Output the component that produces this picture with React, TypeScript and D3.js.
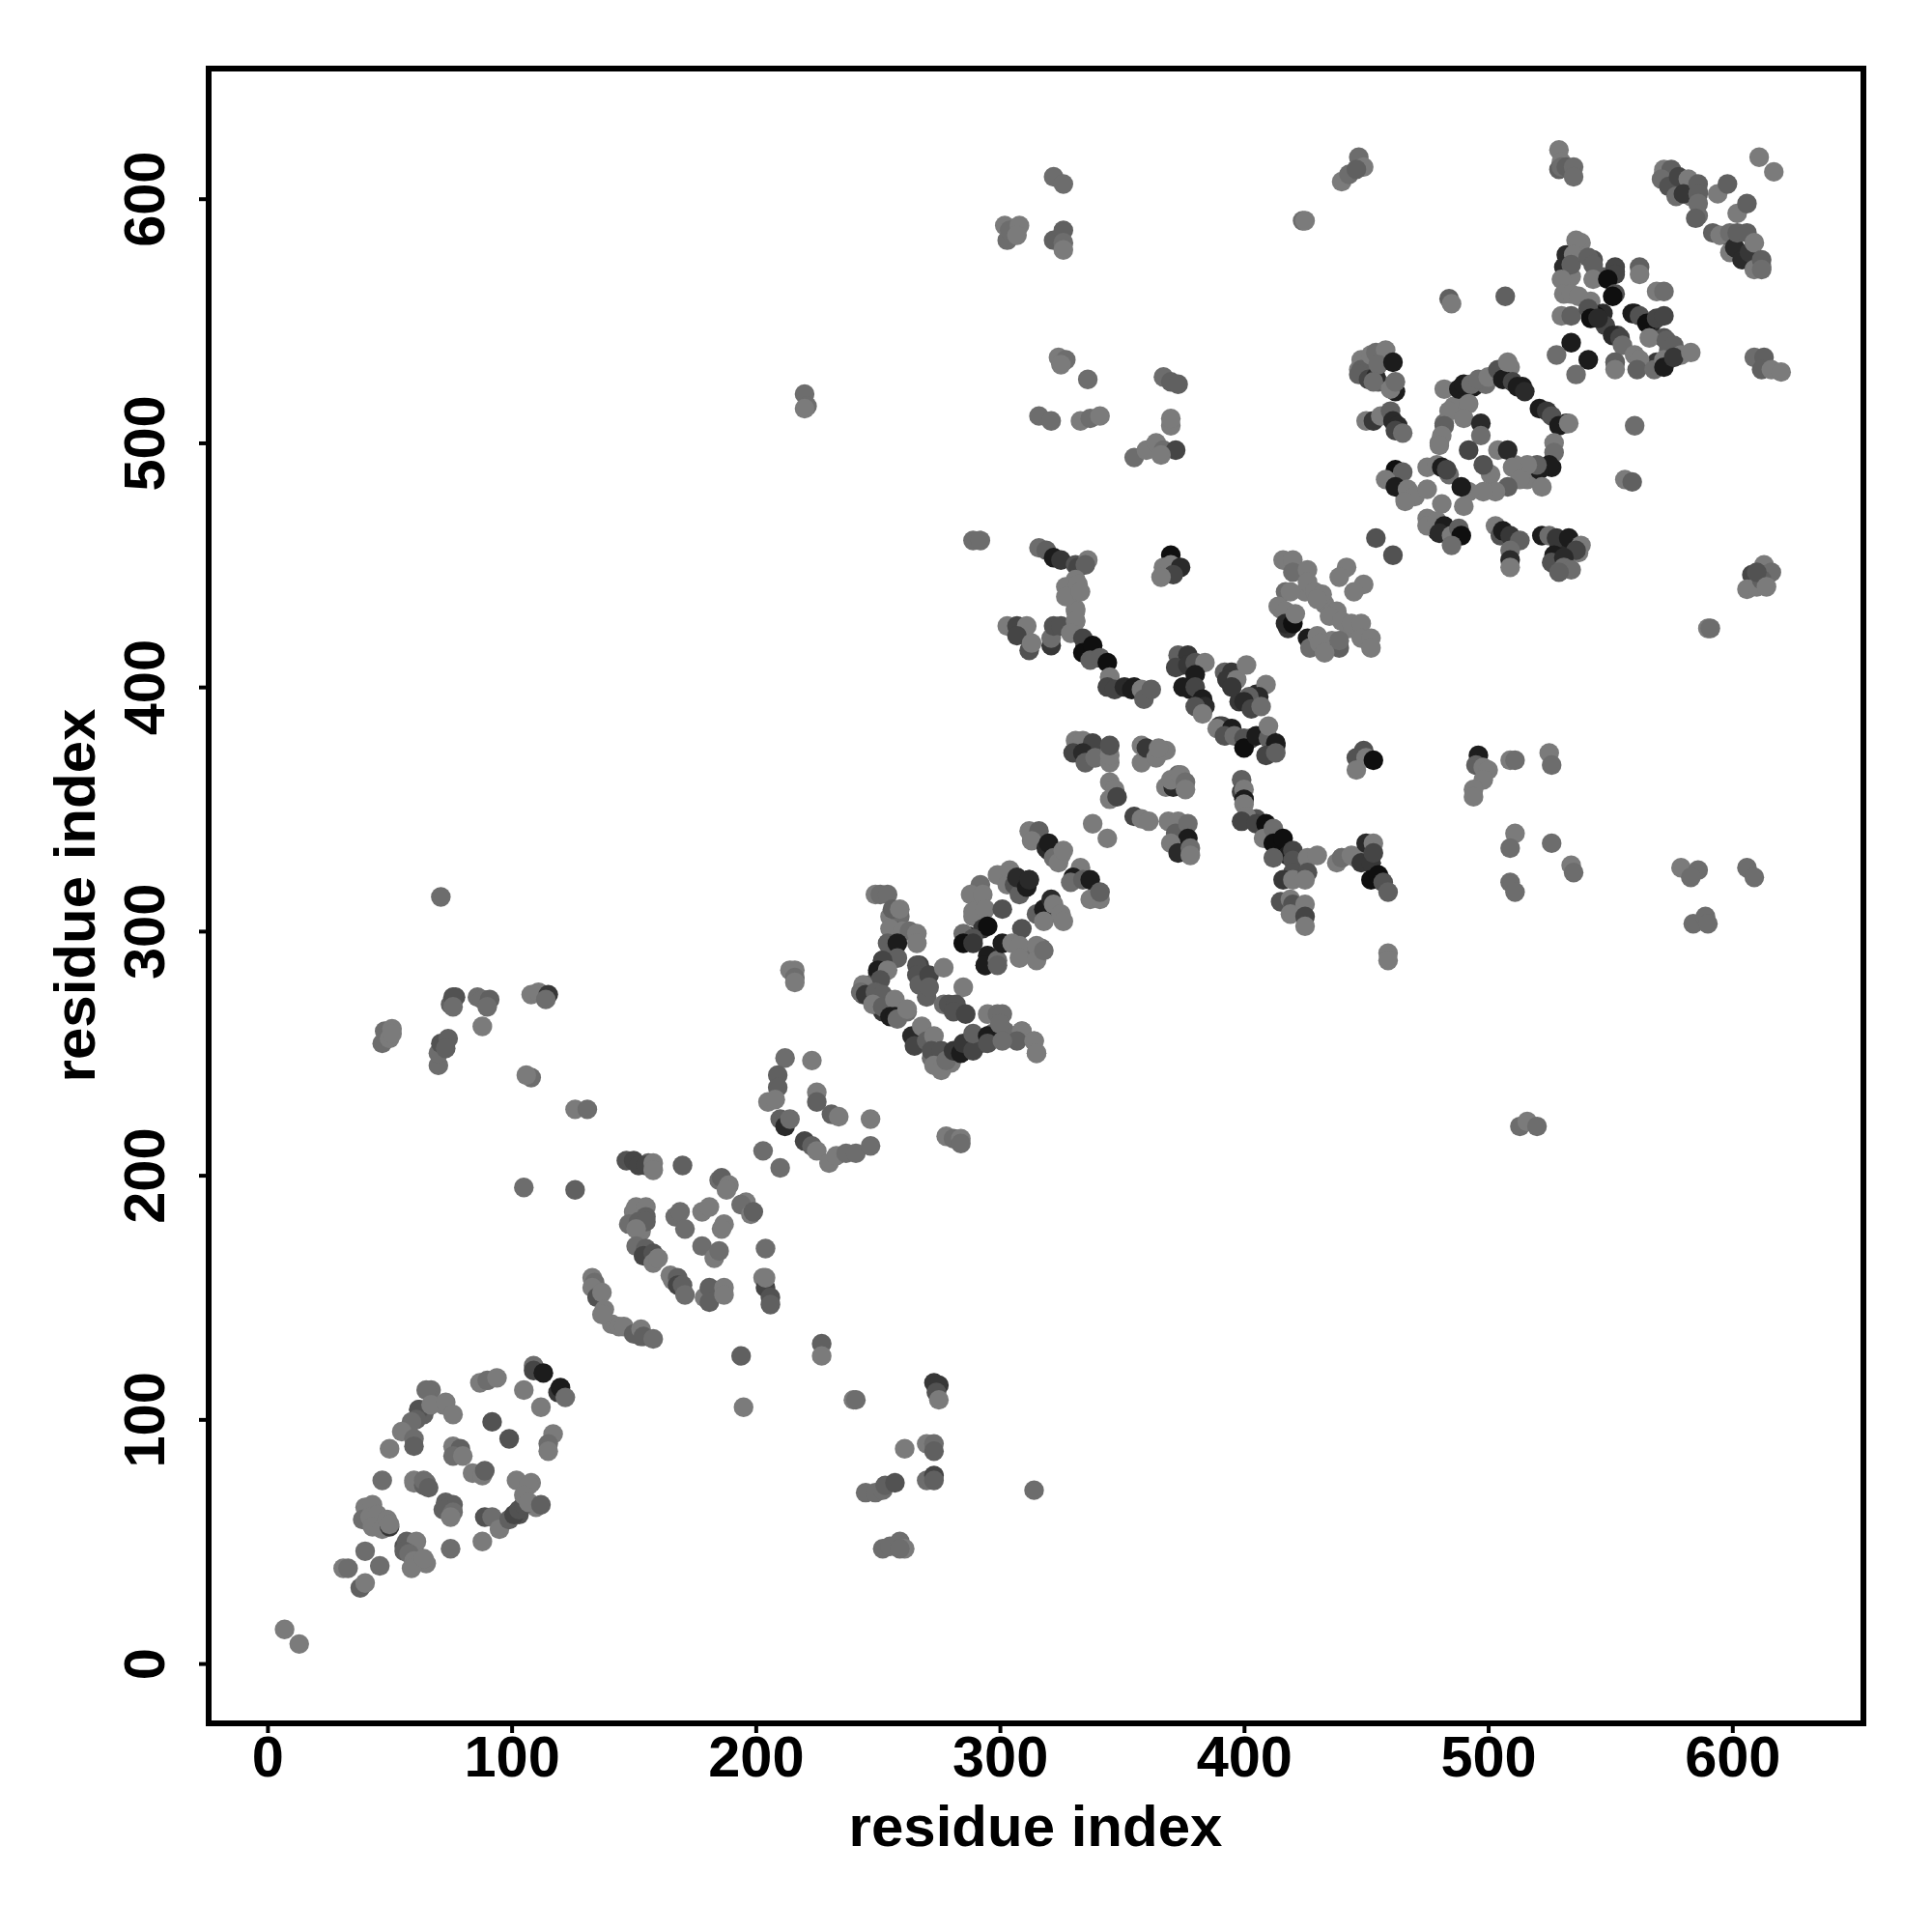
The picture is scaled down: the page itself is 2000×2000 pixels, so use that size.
import { useEffect, useRef } from 'react';
import * as d3 from 'd3';

type Contact = [number, number, number];

// [residue i, residue j, strength level 0-9]
const nTermContacts: Contact[] = [
  [7,14,1],[13,8,1],[31,39,1],[33,39,2],[40,46,2],[46,40,2],[38,31,3],[40,33,1],
  [43,65,1],[39,59,2],[42,60,1],[45,61,1],[43,56,1],[47,55,1],[50,56,6],[49,59,1],[50,57,1],[47,75,2],
  [56,48,4],[57,50,3],[61,50,1],[56,46,3],[58,45,2],[60,42,1],[59,39,1],[64,43,1],[75,47,2],[88,50,1],
  [60,75,1],[64,73,3],[64,75,2],[66,72,3],
  [65,112,2],[64,102,3],[62,104,4],[61,100,3],[59,99,2],[55,95,1],[60,92,2],[60,89,3],[50,88,1],[67,106,1],[73,107,1],[76,102,1],
  [76,89,1],[79,88,3],[76,85,2],[80,85,1],[84,78,1],[88,77,1],[89,79,3],
  [73,66,3],[76,65,3],[72,63,3],[76,62,2],[75,60,1],
  [89,60,4],[92,60,2],[95,55,1],[99,59,3],[101,61,5],[103,63,4],[105,65,4],[102,75,1],[107,73,1],[105,69,1],[107,66,1],[112,65,3],
  [109,122,2],[109,120,5],[113,119,8],[119,111,6],[120,113,8],[122,109,2],[105,112,1],[112,105,1],
  [87,115,1],[90,116,2],[94,117,1],[92,99,4],[99,92,4],[117,94,1],[115,90,2],[115,87,1],
];

const secondDomain: Contact[] = [
  [126,194,3],[147,206,4],[150,206,5],[152,204,5],[155,204,5],[158,205,1],[158,202,1],[170,204,3],
  [185,198,2],[186,199,3],[189,196,1],[188,194,1],[196,189,1],[194,188,2],[198,184,1],[199,185,3],
  [151,187,1],[155,187,1],[148,180,2],[152,181,3],[155,183,3],[155,181,3],[151,178,1],
  [167,183,2],[169,185,2],[171,178,2],[178,185,1],[181,187,1],[187,180,1],[186,178,1],
  [178,171,2],[183,166,1],[185,169,2],[204,170,2],
  [151,171,2],[155,170,3],[154,167,5],[158,168,4],[158,164,1],[160,166,1],
  [165,159,1],[168,158,3],[168,155,5],[170,155,3],[171,151,2],
  [179,150,1],[181,154,3],[181,148,3],[187,154,1],[187,151,1],
  [203,158,1],[204,154,5],[206,150,4],[206,147,3],[204,158,1],
  [133,158,1],[134,156,2],[133,154,1],[135,150,4],[137,152,1],[138,145,1],[137,143,1],
  [144,138,1],[146,138,1],[150,135,3],[153,137,1],[154,134,3],[158,133,2],
  [194,126,3],[227,131,3],[227,126,1],[195,105,1],
];

const thirdDomain: Contact[] = [
  [212,248,2],[223,247,1],[209,241,3],[209,236,3],[205,230,1],[208,231,1],[225,234,1],[225,230,3],[231,225,3],[234,224,1],[247,223,1],
  [210,223,3],[212,220,7],[214,223,2],[220,214,5],[223,212,3],[225,210,1],[230,205,1],[233,208,1],[237,209,2],[241,209,2],[247,212,2],
  [203,210,2],[210,203,2],[278,216,1],[281,215,2],[284,215,1],[284,213,2],
  [214,284,1],[216,284,1],[216,281,2],[216,279,1],
];

const denseLower: Contact[] = [
  [62,104,3],[67,112,2],[72,106,1],[60,74,1],[65,74,2],[75,64,3],[47,56,3],[40,64,1],[60,46,3],[65,41,1],[103,61,4],[108,74,1],[110,64,1],
  [156,205,3],[150,185,1],[153,177,1],[166,157,1],[183,152,2],[135,152,1],[141,139,1],[153,134,3],
  [255,306,1],[259,306,2],[257,300,3],[255,294,7],[252,288,6],[250,283,7],[247,278,3],[244,274,4],[254,272,3],[262,267,2],[252,267,6],
  [267,286,5],[270,281,4],[270,273,3],
  [267,255,6],[272,248,2],[277,245,1],[282,250,6],[287,253,7],[292,254,5],[297,258,3],[302,259,2],[309,259,1],[314,255,2],[315,250,1],
  [292,313,1],[289,306,1],[287,298,7],[299,323,1],[307,321,7],[312,321,5],[320,333,7],[325,331,1],[332,323,3],[340,316,5],[320,308,3],[325,306,2],
  [297,288,3],[294,286,7],[317,293,2],[309,291,2],
];

const centralContacts: Contact[] = [
  [249,315,1],[251,315,2],[254,315,2],[256,309,3],[259,309,1],
  [257,300,4],[255,301,1],[260,300,1],[263,300,2],[266,299,1],[266,295,1],
  [254,295,3],[258,295,8],[258,289,3],[252,288,5],[250,284,8],[254,284,1],[251,280,4],
  [244,278,1],[243,275,2],[245,274,6],[249,275,3],[252,274,3],[248,270,1],[252,269,3],[257,272,1],[255,265,8],[257,265,8],[258,264,2],[262,268,1],
  [266,286,4],[266,282,4],[267,278,3],[271,282,5],[271,277,3],[277,285,1],[285,277,1],
  [277,270,2],[279,270,4],[282,270,4],[281,267,4],[286,266,5],
  [264,257,7],[265,253,5],[268,261,1],[270,255,3],[273,257,1],[272,251,4],[276,251,4],[273,245,1],[276,243,1],[280,246,1],[278,247,2],
  [281,251,6],[284,250,8],[285,254,6],[289,251,5],[289,258,3],[295,257,8],[295,254,4],
  [295,266,1],[299,266,2],[301,266,2],[300,262,2],[309,259,1],[307,255,3],[301,255,2],[314,255,1],[315,250,1],
  [292,319,2],[288,315,1],[293,315,1],[289,308,1],[294,309,1],[301,309,4],[293,301,6],[295,302,9],[285,299,2],[289,297,4],[285,295,9],[289,295,6],[309,301,4],
  [295,290,8],[294,286,8],[299,288,2],[299,286,3],[301,295,8],[305,295,1],[308,294,1],[308,289,1],[315,294,1],[315,288,1],[318,292,2],
  [304,325,1],[303,319,1],[306,319,4],[308,315,3],[307,322,7],[311,318,8],[312,321,7],
  [315,307,3],[318,309,8],[321,313,7],[322,311,1],[318,304,1],[325,307,1],[326,304,1],
  [331,378,1],[334,378,1],[338,377,5],[330,373,5],[334,373,7],[335,369,3],[339,371,2],[345,369,1],[345,372,1],[345,376,4],
  [345,361,1],[347,358,1],[345,354,1],[348,355,5],[338,344,1],[344,338,1],
  [355,347,5],[358,346,1],[361,345,1],
  [358,369,1],[358,376,1],[360,375,6],[364,371,1],[365,375,1],
  [368,359,1],[371,359,7],[370,362,1],[374,364,1],[376,361,2],[376,358,1],
  [369,345,1],[373,345,1],[372,340,3],[377,344,2],[377,338,8],[370,336,1],[373,332,7],[378,334,2],[378,331,1],
  [312,341,1],[316,341,3],[313,337,1],[319,334,7],[320,336,8],[323,330,8],[322,330,2],[324,328,1],[326,333,1],
  [333,326,1],[330,322,8],[329,320,2],[334,321,3],[337,321,8],[337,313,1],[341,313,1],[341,316,3],
];

const denseMiddle: Contact[] = [
  [316,457,2],[319,456,3],[322,453,8],[325,452,6],[331,450,4],[336,452,1],[332,449,5],[335,450,3],[331,444,1],[331,440,1],[331,432,1],[331,427,1],
  [335,417,7],[340,412,6],[345,404,3],
  [375,409,6],[378,399,8],[383,394,6],[390,384,6],[395,381,8],[403,379,5],[413,376,7],[398,394,6],[405,397,7],
  [400,354,2],[405,346,4],[413,339,8],[418,331,8],[420,323,2],
  [450,333,2],[452,328,7],[456,321,5],[440,330,1],[446,330,1],
  [368,374,1],[360,374,1],[373,364,2],[375,359,3],[335,376,4],[342,374,1],[337,371,4],
  [415,432,1],[418,424,6],[431,417,1],[436,419,1],[425,439,1],[433,434,1],[443,424,1],
];

const helixContacts: Contact[] = [
  [303,425,1],[307,425,5],[311,425,1],[307,421,5],[312,415,4],[313,418,1],
  [321,417,6],[321,420,2],[322,425,4],[325,425,4],[331,431,1],[331,427,1],[329,422,1],
  [327,441,1],[327,437,1],[332,442,1],[333,439,1],
  [334,420,5],[334,414,9],[338,417,9],[337,411,3],[341,412,3],[344,410,9],[345,404,1],
  [344,400,5],[347,399,5],[351,400,7],[355,400,8],[354,399,8],[358,399,1],[359,395,3],[362,399,3],
  [370,454,9],[367,449,1],[370,450,1],[374,449,7],[371,446,5],[366,445,1],
  [373,413,3],[377,413,6],[372,408,5],[377,409,6],[380,410,4],[384,410,1],[380,405,8],[375,400,8],[380,400,5],
  [383,395,8],[384,392,7],[380,392,4],[383,389,1],
  [392,406,3],[395,406,6],[393,403,6],[397,403,1],[395,400,6],[401,409,1],
  [409,401,1],[406,396,7],[402,396,3],[400,394,7],[403,391,5],[407,392,2],
  [391,384,5],[389,383,1],[395,383,8],[392,380,4],[396,380,2],[400,379,4],[400,375,9],[405,380,8],[410,379,3],[410,384,1],[413,377,8],[409,372,5],[413,373,3],
  [399,362,3],[399,357,5],[400,358,1],[400,354,8],[400,352,1],[401,347,1],[399,345,5],[405,344,5],[409,344,9],[408,338,1],[412,342,2],[412,336,9],[416,338,9],
  [412,330,3],[420,333,5],[420,329,4],[420,324,4],[416,321,6],[420,321,1],[426,330,1],[430,331,1],[426,324,4],[425,321,1],
  [415,312,4],[419,313,1],[420,311,4],[419,307,1],[425,311,1],[425,306,5],[425,302,1],
  [438,328,1],[440,330,2],[444,331,1],[448,328,6],[452,328,6],[450,336,7],[453,336,1],[453,332,5],[452,321,9],[455,323,9],[457,320,4],[459,316,3],
  [459,291,1],[459,288,1],
  [449,374,4],[446,371,4],[450,371,1],[446,366,1],[453,370,9],
  [496,372,8],[495,368,3],[498,367,1],[500,366,1],[498,362,1],[494,358,1],[494,355,1],
  [509,370,1],[511,370,2],[525,373,1],[526,368,2],[511,340,1],[509,334,2],[509,320,2],[511,316,2],[526,336,2],[534,327,1],[535,324,2],
  [579,326,1],[586,325,2],[583,322,2],[584,303,2],[589,306,2],[590,303,2],[606,326,2],[609,322,2],
  [513,220,2],[516,222,1],[520,220,2],
];

const longRangeContacts: Contact[] = [
  [71,314,2],[47,254,2],[48,259,2],[51,260,1],[50,256,1],[51,258,1],
  [70,245,2],[70,250,2],[71,254,4],[74,256,3],[73,252,3],
  [75,270,3],[76,273,4],[77,273,4],[76,269,2],[86,273,2],[88,272,2],[91,272,3],[90,269,2],[88,261,1],
  [108,274,1],[111,275,1],[115,274,6],[114,272,2],[108,240,2],[106,241,1],
  [126,227,1],[131,227,2],[105,195,2],
  [240,108,1],[241,108,2],[273,115,6],[275,114,6],[274,111,4],[275,108,1],[261,88,1],
  [270,90,1],[273,90,2],[273,87,3],[270,75,2],[273,77,5],[273,75,3],
  [245,70,2],[249,70,2],[252,71,2],[253,73,3],[257,74,4],
  [252,47,2],[255,48,2],[259,50,2],[261,47,1],[259,47,2],[314,71,2],
  [220,520,2],[221,515,2],[220,514,1],[289,460,2],[292,460,2],
  [303,583,2],[302,589,1],[304,587,2],[308,589,1],[307,585,1],
  [322,609,2],[326,606,2],[322,583,3],[326,587,3],[326,582,2],[326,579,1],
  [324,535,1],[327,534,2],[325,532,1],[336,526,2],[316,511,2],[321,509,2],[333,509,1],[337,510,2],[341,511,1],
  [355,494,2],[360,497,1],[364,500,1],[367,497,2],[372,497,5],[366,495,1],
  [367,527,2],[370,525,3],[373,524,3],[370,507,1],[370,510,1],
  [424,591,2],[425,591,1],[440,607,1],[443,610,2],[447,617,2],[449,613,1],[446,612,3],
  [484,559,3],[485,557,1],[507,560,3],[560,507,2],[556,485,1],[559,484,3],
  [590,424,1],[591,424,2],
  [608,446,5],[606,440,1],[610,441,1],[613,450,1],[616,447,2],[612,444,3],[610,447,4],[614,441,1],
];

const denseUpper: Contact[] = [
  [533,573,7],[537,581,1],[538,582,1],[534,568,1],[547,568,3],[543,575,4],[552,570,5],[542,558,1],[547,553,7],[544,552,9],[548,548,5],[553,544,5],
  [559,553,8],[567,549,7],[572,543,4],[574,538,3],[562,533,1],[552,533,2],[569,533,6],[577,537,1],
  [494,523,8],[499,524,2],[504,528,3],[509,531,1],[514,523,8],[486,515,1],[482,508,2],[480,500,1],[484,487,2],[501,487,1],[511,491,1],[516,485,1],[526,490,8],[532,508,8],
  [450,533,2],[453,530,4],[458,535,2],[451,528,2],[455,525,3],[447,530,1],
  [463,487,8],[466,477,1],[461,484,7],[479,467,1],[484,462,4],[479,464,7],
  [529,457,7],[532,452,2],[537,455,1],[529,450,3],
  [572,611,2],[576,608,4],[579,606,8],[583,601,1],[586,603,3],[586,593,2],[600,583,6],[605,576,7],[609,575,3],[612,572,1],
];

const cterminalContacts: Contact[] = [
  [416,452,1],[420,452,1],[420,447,2],[426,448,1],[417,439,2],[419,439,1],[414,433,1],[417,431,1],
  [417,426,7],[420,426,9],[421,430,1],[426,443,1],[429,439,1],[432,438,1],[430,436,1],
  [442,449,1],[439,445,1],[449,442,1],[445,439,1],[438,431,1],[435,429,1],[440,427,1],[444,426,1],[448,426,1],[448,420,1],[452,420,1],[452,416,1],
  [439,416,3],[439,419,2],[426,420,8],[427,416,2],[430,421,1],[431,418,1],[433,414,1],
  [454,461,4],[461,454,4],
  [448,534,1],[448,530,3],[447,528,3],[452,536,1],[454,537,2],[458,538,1],[451,526,5],[454,527,7],[455,532,2],[453,525,2],[461,533,8],[462,521,8],[460,522,1],[462,525,2],
  [450,509,1],[453,509,6],[456,511,1],[460,513,3],[461,509,7],[463,507,7],[462,505,5],[465,504,2],
  [482,522,1],[488,522,8],[490,524,8],[493,524,2],[496,526,2],[500,527,1],[504,530,4],[506,526,8],[508,533,1],[510,525,5],[512,523,8],[515,521,7],
  [492,516,1],[484,513,1],[490,510,1],[482,507,3],[481,503,1],[480,499,1],[497,508,7],[497,503,2],[492,497,5],[504,497,1],[508,497,7],[498,491,4],
  [521,514,8],[524,513,6],[526,511,4],[529,507,8],[533,508,1],[527,500,1],[527,496,2],[525,491,8],[521,489,8],[520,491,3],[516,491,1],[522,482,1],
  [510,490,1],[513,485,1],[508,482,3],[503,480,1],[498,480,1],[492,480,1],[489,482,8],[490,474,1],
  [475,490,1],[479,491,1],[481,490,8],[483,489,5],
  [462,489,9],[465,488,3],[458,485,1],[462,482,8],[467,481,1],[470,478,1],[475,481,1],[466,476,1],[481,475,1],
  [475,469,1],[475,466,1],[479,468,1],[482,466,8],[480,463,7],[485,462,1],[488,465,3],[489,462,9],[485,458,2],
  [503,466,1],[505,462,4],[506,464,8],[509,462,6],[513,460,3],[509,456,2],[509,452,7],[509,449,1],
  [522,462,8],[525,462,2],[528,461,6],[533,461,8],[538,458,1],[536,456,5],[527,454,8],[526,451,4],[531,453,7],[531,449,2],[534,448,2],[529,447,3],
  [529,620,1],[530,615,1],[529,612,3],[530,613,2],[532,613,3],[535,613,2],[535,609,2],
  [611,617,1],[617,611,1],
  [572,612,1],[575,612,3],[571,608,2],[574,605,4],[578,609,5],[577,601,2],[582,608,1],[580,602,6],[586,606,3],[586,602,3],[586,598,2],[585,592,3],
  [594,602,1],[598,606,3],[602,594,1],[606,598,3],
  [592,586,3],[595,585,1],[599,586,2],[599,578,1],[601,580,7],[602,586,3],[606,586,3],[604,575,7],[607,578,6],[609,582,1],[609,571,1],[612,575,3],[612,571,2],
  [532,577,7],[536,583,1],[535,577,1],[531,572,7],[534,573,3],[530,567,1],[541,576,3],[543,573,3],[543,567,1],
  [531,561,1],[534,561,1],[537,560,1],[530,552,1],[534,552,3],[541,555,4],[542,551,9],[545,551,7],
  [552,572,5],[552,569,5],[549,567,9],[552,561,4],[551,560,9],[562,572,3],[562,569,1],[569,562,1],[572,562,2],
  [560,553,8],[562,552,4],[565,549,9],[569,551,5],[572,552,5],[566,543,1],[573,542,3],[576,540,3],
  [551,544,7],[554,543,5],[555,540,2],[560,536,1],[562,534,1],[561,530,3],[552,533,3],[552,530,1],[568,530,2],
  [572,534,1],[572,531,8],[579,536,1],[576,535,6],[583,537,1],
  [534,541,8],[528,536,2],[541,534,8],[536,528,2],
  [609,535,2],[613,535,3],[612,530,3],[616,530,1],[620,529,1],
];

const contacts = [
  ...denseLower,
  ...denseMiddle,
  ...denseUpper,
  ...nTermContacts,
  ...secondDomain,
  ...thirdDomain,
  ...centralContacts,
  ...helixContacts,
  ...longRangeContacts,
  ...cterminalContacts,
];

const xTicks = [0, 100, 200, 300, 400, 500, 600];
const yTicks = [0, 100, 200, 300, 400, 500, 600];
const axisLabel = 'residue index';

const SIZE = 2000;
const FRAME = { left: 216, right: 1929, top: 71, bottom: 1784 };
const FONT = '"Liberation Sans", Arial, sans-serif';

export default function App() {
  const svgRef = useRef<SVGSVGElement>(null);

  useEffect(() => {
    if (!svgRef.current) return;
    const svg = d3.select(svgRef.current);
    svg.selectAll('*').remove();

    const x = d3.scaleLinear().domain([-24.1, 653.7]).range([FRAME.left, FRAME.right]);
    const y = d3.scaleLinear().domain([-24.5, 653.3]).range([FRAME.bottom, FRAME.top]);
    const gray = d3.scaleLinear<string>().domain([0, 9]).range(['#888888', '#0f0f0f']);

    svg.append('rect').attr('width', SIZE).attr('height', SIZE).attr('fill', '#fff');

    svg
      .append('g')
      .selectAll('circle')
      .data(contacts)
      .join('circle')
      .attr('cx', d => x(d[0]))
      .attr('cy', d => y(d[1]))
      .attr('r', 10.2)
      .attr('fill', d => gray(d[2]));

    svg
      .append('rect')
      .attr('x', FRAME.left)
      .attr('y', FRAME.top)
      .attr('width', FRAME.right - FRAME.left)
      .attr('height', FRAME.bottom - FRAME.top)
      .attr('fill', 'none')
      .attr('stroke', '#000')
      .attr('stroke-width', 6);

    // Eixos
    const xAxis = svg
      .append('g')
      .attr('transform', `translate(0, ${FRAME.bottom})`)
      .call(d3.axisBottom(x).tickValues(xTicks).tickSize(10).tickPadding(4).tickFormat(d3.format('d')));
    xAxis.select('.domain').remove();
    xAxis.selectAll('line').attr('stroke', '#000').attr('stroke-width', 4);
    xAxis
      .selectAll('text')
      .attr('y', 55)
      .attr('dy', 0)
      .attr('fill', '#000')
      .style('font-family', FONT)
      .style('font-size', '59.5px')
      .style('font-weight', '700');

    const yAxis = svg
      .append('g')
      .attr('transform', `translate(${FRAME.left}, 0)`)
      .call(d3.axisLeft(y).tickValues(yTicks).tickSize(10).tickFormat(d3.format('d')));
    yAxis.select('.domain').remove();
    yAxis.selectAll('line').attr('stroke', '#000').attr('stroke-width', 4);
    yAxis
      .selectAll('text')
      .attr('x', 0)
      .attr('y', 0)
      .attr('dy', 0)
      .attr('transform', 'translate(-46, 0) rotate(-90)')
      .attr('text-anchor', 'middle')
      .attr('fill', '#000')
      .style('font-family', FONT)
      .style('font-size', '59.5px')
      .style('font-weight', '700');

    // Labels dos eixos
    svg
      .append('text')
      .attr('x', 1072)
      .attr('y', 1911)
      .attr('text-anchor', 'middle')
      .style('font-family', FONT)
      .style('font-size', '60px')
      .style('font-weight', '700')
      .text(axisLabel);

    svg
      .append('text')
      .attr('transform', 'translate(98, 927) rotate(-90)')
      .attr('text-anchor', 'middle')
      .style('font-family', FONT)
      .style('font-size', '60px')
      .style('font-weight', '700')
      .text(axisLabel);
  }, []);

  return (
    <svg
      ref={svgRef}
      width={SIZE}
      height={SIZE}
      style={{ position: 'absolute', left: 0, top: 0 }}
    />
  );
}
